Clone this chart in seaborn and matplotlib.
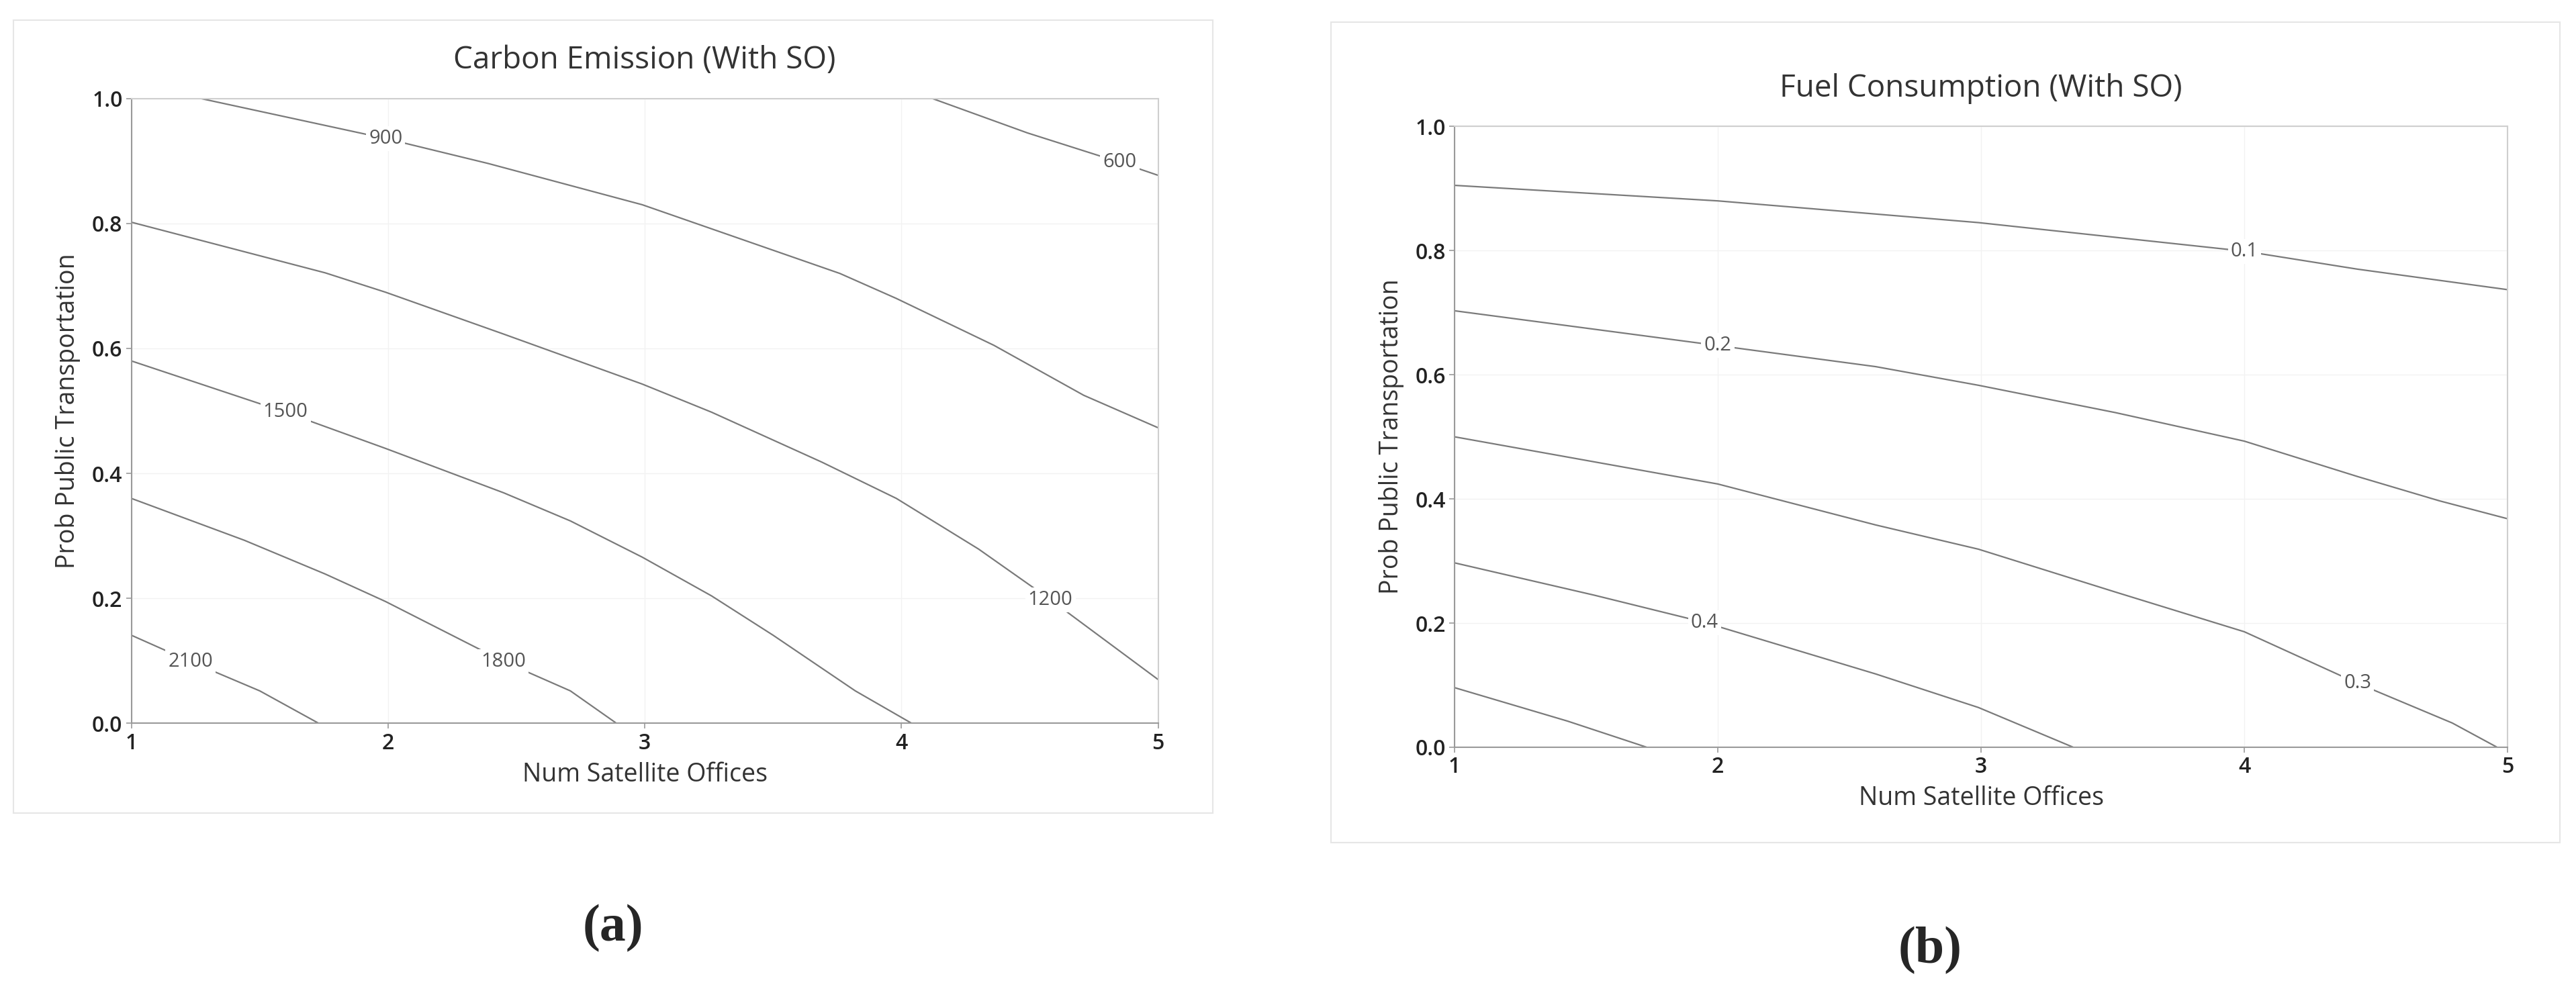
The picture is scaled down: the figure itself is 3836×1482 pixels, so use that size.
import matplotlib
matplotlib.use("Agg")
import matplotlib.pyplot as plt
from matplotlib.patches import Rectangle
import pandas as pd
import seaborn as sns

sns.set_style("white")
plt.rcParams['font.family'] = ['Open Sans', 'DejaVu Sans']

# contour lines: level -> (x, y) points
carbon_levels = [600, 900, 1200, 1500, 1800, 2100]
carbon_x = {
    600: [4.12, 4.49, 4.85, 5.0],
    900: [1.27, 1.99, 2.39, 2.99, 3.76, 3.98, 4.36, 4.71, 5.0],
    1200: [1.0, 1.755, 1.99, 2.45, 2.99, 3.26, 3.69, 3.98, 4.30, 4.58, 5.0],
    1500: [1.0, 1.6, 1.99, 2.45, 2.71, 2.99, 3.26, 3.50, 3.82, 4.04],
    1800: [1.0, 1.44, 1.755, 1.99, 2.45, 2.71, 2.89],
    2100: [1.0, 1.23, 1.5, 1.73],
}
carbon_y = {
    600: [1.0, 0.945, 0.898, 0.877],
    900: [1.0, 0.936, 0.896, 0.83, 0.72, 0.68, 0.605, 0.525, 0.473],
    1200: [0.802, 0.721, 0.69, 0.623, 0.543, 0.498, 0.418, 0.36, 0.279, 0.198, 0.07],
    1500: [0.58, 0.498, 0.44, 0.369, 0.324, 0.266, 0.204, 0.141, 0.052, 0.0],
    1800: [0.36, 0.293, 0.239, 0.195, 0.099, 0.052, 0.0],
    2100: [0.141, 0.099, 0.052, 0.0],
}
carbon_labels = {600: (4.85, 0.898), 900: (1.99, 0.936), 1200: (4.58, 0.198),
                 1500: (1.6, 0.498), 1800: (2.45, 0.099), 2100: (1.23, 0.099)}

fuel_levels = [0.1, 0.2, 0.3, 0.4, 0.5]
fuel_x = {
    0.1: [1.0, 2.0, 2.99, 4.0, 4.43, 5.0],
    0.2: [1.0, 2.0, 2.6, 2.99, 3.51, 4.0, 4.43, 4.74, 5.0],
    0.3: [1.0, 2.0, 2.6, 2.99, 3.51, 4.0, 4.43, 4.79, 4.96],
    0.4: [1.0, 1.53, 1.95, 2.6, 2.99, 3.35],
    0.5: [1.0, 1.43, 1.73],
}
fuel_y = {
    0.1: [0.905, 0.88, 0.845, 0.799, 0.770, 0.737],
    0.2: [0.703, 0.647, 0.613, 0.583, 0.539, 0.493, 0.436, 0.397, 0.368],
    0.3: [0.5, 0.424, 0.358, 0.319, 0.25, 0.186, 0.103, 0.039, 0.0],
    0.4: [0.297, 0.245, 0.201, 0.118, 0.064, 0.0],
    0.5: [0.096, 0.042, 0.0],
}
fuel_labels = {0.1: (4.0, 0.799), 0.2: (2.0, 0.647), 0.3: (4.43, 0.103), 0.4: (1.95, 0.201)}

LINE = '#7a7a7a'


def panel(fig, rect, box, title, levels, xs, ys, labels, yticks):
    fig.patches.append(Rectangle(box[:2], box[2], box[3], transform=fig.transFigure,
                                 fill=False, edgecolor='#e6e6e6', lw=1.5))
    ax = fig.add_axes(rect)
    for lv in levels:
        df = pd.DataFrame({'x': xs[lv], 'y': ys[lv]})
        sns.lineplot(data=df, x='x', y='y', sort=False, estimator=None,
                     color=LINE, lw=1.6, ax=ax)
    ax.set_xlim(1, 5)
    ax.set_ylim(0, 1)
    ax.set_xticks([1, 2, 3, 4, 5])
    ax.set_yticks(yticks)
    ax.set_yticklabels(['%.1f' % t for t in yticks])
    ax.grid(color='#f2f2f2', lw=1)
    for s in ['top', 'right']:
        ax.spines[s].set_color('#cfcfcf')
    for s in ['left', 'bottom']:
        ax.spines[s].set_color('#9a9a9a')
    for s in ax.spines.values():
        s.set_linewidth(1.5)
    ax.tick_params(axis='both', length=6, width=1.2, color='#9a9a9a', labelcolor='#222222',
                   labelsize=23, direction='out', bottom=True, left=True)
    for t in ax.get_xticklabels() + ax.get_yticklabels():
        t.set_fontweight('semibold')
    ax.set_xlabel('Num Satellite Offices', fontsize=27, color='#333333', labelpad=8)
    ax.set_ylabel('Prob Public Transportation', fontsize=27, color='#333333', labelpad=12)
    ax.set_title(title, fontsize=33, color='#333333', pad=32)
    for lv, (lx, ly) in labels.items():
        ax.text(lx, ly, '%g' % lv, ha='center', va='center',
                fontsize=21, color='#555555',
                bbox=dict(facecolor='white', edgecolor='none', pad=3))
    return ax


fig = plt.figure(figsize=(38.37, 14.82), dpi=100)
panel(fig, [0.051, 0.273, 0.3985, 0.628], [0.0052, 0.183, 0.4654, 0.797],
      'Carbon Emission (With SO)', carbon_levels, carbon_x, carbon_y, carbon_labels,
      [0.0, 0.2, 0.4, 0.6, 0.8, 1.0])
panel(fig, [0.5645, 0.249, 0.4087, 0.624], [0.5166, 0.153, 0.477, 0.825],
      'Fuel Consumption (With SO)', fuel_levels, fuel_x, fuel_y, fuel_labels,
      [0.0, 0.2, 0.4, 0.6, 0.8, 1.0])

fig.text(0.238, 0.067, '(a)', fontsize=56, family='Liberation Serif', fontweight='bold',
         ha='center', va='center')
fig.text(0.749, 0.045, '(b)', fontsize=56, family='Liberation Serif', fontweight='bold',
         ha='center', va='center')

fig.savefig('out.png', dpi=100, facecolor='white')
